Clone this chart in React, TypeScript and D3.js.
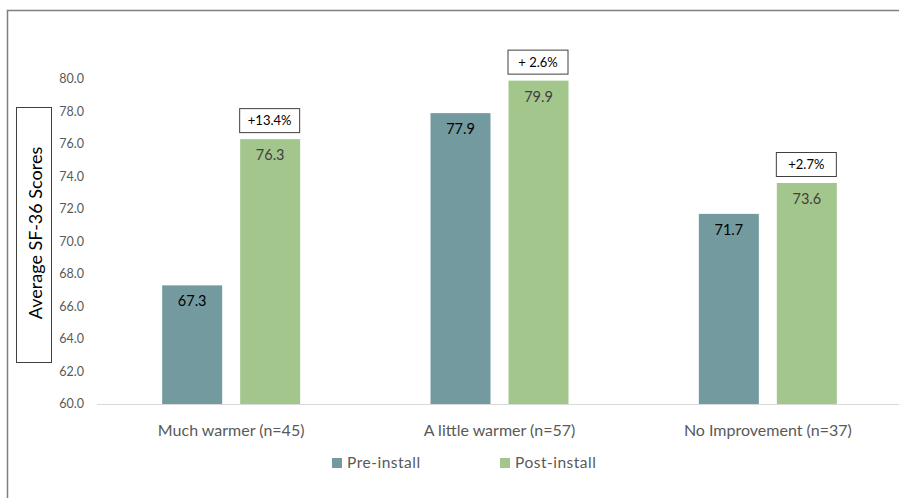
import React from "react";
import * as d3 from "d3";

const categories = ["Much warmer (n=45)", "A little warmer (n=57)", "No Improvement (n=37)"];
const series = ["Pre-install", "Post-install"];
const preValues = [67.3, 77.9, 71.7];
const postValues = [76.3, 79.9, 73.6];
const changeLabels = ["+13.4%", "+ 2.6%", "+2.7%"];
const yTicks = [60, 62, 64, 66, 68, 70, 72, 74, 76, 78, 80];

const W = 899;
const H = 498;
const colors = ["#739b9f", "#a3c68c"];
const FONT = "Lato, 'Open Sans', sans-serif";

export default function App() {
  const x = d3.scaleBand<string>().domain(categories).range([97, 902]);
  const y = d3.scaleLinear().domain([60, 80]).range([404, 79]);
  const barW = 60;
  const gap = 18;
  const vals = [preValues, postValues];

  return (
    <svg width={W} height={H} style={{ position: "fixed", left: 0, top: 0, background: "#fff" }} fontFamily={FONT}>
      <rect x={0} y={0} width={W} height={H} fill="#fff" />
      <rect x={7.5} y={10.5} width={W + 10} height={H + 10} fill="none" stroke="#7f7f7f" strokeWidth={1.5} />
      {/* y title box */}
      <rect x={16.5} y={107.5} width={35} height={255} fill="#fff" stroke="#404040" strokeWidth={1} />
      <text transform={`translate(42,233) rotate(-90)`} textAnchor="middle" fontSize={18} fill="#000">
        Average SF-36 Scores
      </text>
      {/* y ticks */}
      {yTicks.map((t) => (
        <text key={t} x={84} y={y(t)} dy="0.35em" textAnchor="end" fontSize={12.5} fill="#595959">
          {d3.format(".1f")(t)}
        </text>
      ))}
      {/* bars */}
      {categories.map((c, i) => {
        const cx = (x(c) as number) + x.bandwidth() / 2;
        return (
          <g key={c}>
            {vals.map((v, s) => {
              const bx = s === 0 ? cx - gap / 2 - barW : cx + gap / 2;
              const top = y(v[i]);
              return (
                <g key={s}>
                  <rect x={bx} y={top} width={barW} height={y(60) - top} fill={colors[s]} />
                  <text x={bx + barW / 2} y={top + 16} dy="0.35em" textAnchor="middle" fontSize={14.5} fill={s === 0 ? "#000" : "#404040"}>
                    {d3.format(".1f")(v[i])}
                  </text>
                </g>
              );
            })}
            {(() => {
              const bx = cx + gap / 2;
              const top = y(postValues[i]);
              return (
                <g>
                  <rect x={bx - 0.5} y={top - 30.5} width={60} height={24} fill="#fff" stroke="#404040" strokeWidth={1} />
                  <text x={bx + 29.5} y={top - 18.5} dy="0.35em" textAnchor="middle" fontSize={13} fill="#000">
                    {changeLabels[i]}
                  </text>
                </g>
              );
            })()}
            <text x={cx} y={430} dy="0.35em" textAnchor="middle" fontSize={16} fill="#595959">
              {c}
            </text>
          </g>
        );
      })}
      <line x1={97} x2={W} y1={404.5} y2={404.5} stroke="#d9d9d9" strokeWidth={1} />
      {/* legend */}
      {series.map((s, i) => {
        const lx = i === 0 ? 332 : 500;
        return (
          <g key={s}>
            <rect x={lx} y={458} width={10} height={10} fill={colors[i]} />
            <text x={lx + 15} y={463} dy="0.35em" fontSize={15.5} fill="#595959" letterSpacing={0.5}>
              {s}
            </text>
          </g>
        );
      })}
    </svg>
  );
}
